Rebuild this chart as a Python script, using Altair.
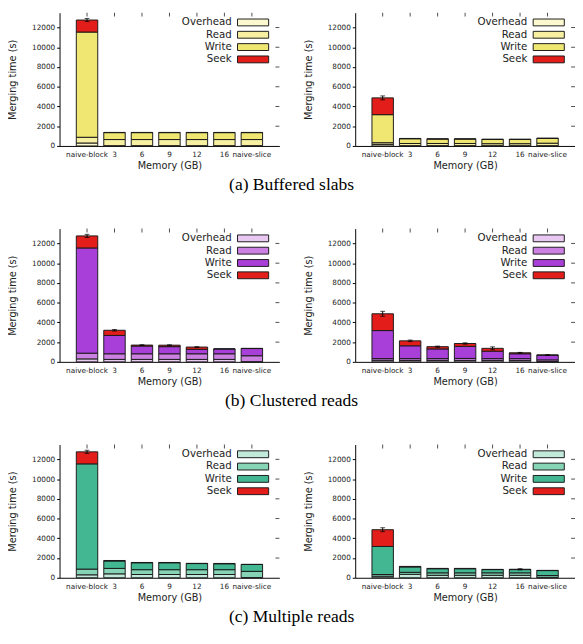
import altair as alt
import pandas as pd

mems = ["naive-block", "3", "6", "9", "12", "16", "naive-slice"]
components = ["Overhead", "Read", "Write", "Seek"]
y_ticks = [0, 2000, 4000, 6000, 8000, 10000, 12000]

captions = ["(a) Buffered slabs", "(b) Clustered reads", "(c) Multiple reads"]

yellow = ["#fcf8cf", "#f7f0a2", "#f0e772", "#e31e1a"]
purple = ["#e9c9f2", "#cb80e2", "#a93fd9", "#e31e1a"]
green = ["#c2eadb", "#86d3b5", "#42b792", "#e31e1a"]

# (a) Buffered slabs - left
a_l_overhead = [300, 30, 30, 30, 30, 30, 30]
a_l_read = [580, 620, 620, 620, 620, 620, 620]
a_l_write = [10660, 700, 700, 700, 700, 700, 700]
a_l_seek = [1220, 20, 20, 20, 20, 20, 20]
a_l_err = [160, 0, 0, 0, 0, 0, 0]
# (a) Buffered slabs - right
a_r_overhead = [160, 30, 30, 30, 30, 30, 30]
a_r_read = [170, 220, 220, 220, 200, 200, 250]
a_r_write = [2840, 480, 450, 450, 430, 430, 480]
a_r_seek = [1700, 30, 20, 20, 20, 20, 30]
a_r_err = [200, 0, 0, 0, 0, 0, 0]
# (b) Clustered reads - left
b_l_overhead = [300, 250, 250, 250, 250, 250, 20]
b_l_read = [580, 570, 570, 570, 570, 570, 600]
b_l_write = [10660, 1860, 780, 720, 450, 490, 730]
b_l_seek = [1220, 520, 100, 150, 230, 0, 20]
b_l_err = [160, 80, 40, 40, 40, 0, 0]
# (b) Clustered reads - right
b_r_overhead = [160, 150, 150, 150, 150, 150, 30]
b_r_read = [170, 180, 180, 200, 180, 180, 170]
b_r_write = [2840, 1300, 980, 1220, 750, 490, 480]
b_r_seek = [1700, 500, 230, 290, 290, 100, 10]
b_r_err = [250, 80, 60, 70, 150, 40, 30]
# (c) Multiple reads - left
c_l_overhead = [300, 400, 330, 330, 330, 330, 20]
c_l_read = [580, 550, 490, 490, 490, 490, 630]
c_l_write = [10660, 750, 700, 700, 620, 600, 700]
c_l_seek = [1220, 50, 30, 30, 20, 30, 0]
c_l_err = [160, 0, 0, 0, 0, 0, 0]
# (c) Multiple reads - right
c_r_overhead = [160, 350, 250, 250, 250, 250, 50]
c_r_read = [170, 200, 250, 250, 250, 250, 180]
c_r_write = [2840, 550, 420, 420, 330, 330, 500]
c_r_seek = [1700, 50, 30, 30, 20, 30, 20]
c_r_err = [200, 0, 0, 0, 0, 60, 0]

W, H = 226, 137
FONT = "DejaVu Sans"


def panel(over, read, write, seek, err, colors):
    series = [over, read, write, seek]
    rows = []
    for i, m in enumerate(mems):
        for k, name in enumerate(components):
            rows.append({"mem": m, "comp": name, "k": k,
                         "value": series[k][i], "color": colors[k]})
    df = pd.DataFrame(rows)
    totals = [over[i] + read[i] + write[i] + seek[i] for i in range(len(mems))]
    edf = pd.DataFrame({"mem": mems,
                        "lo": [t - e for t, e in zip(totals, err)],
                        "hi": [t + e for t, e in zip(totals, err)],
                        "err": err})
    edf = edf[edf["err"] > 0]

    xsc = alt.Scale(domain=mems, paddingInner=0.22, paddingOuter=0.61)
    ysc = alt.Scale(domain=[0, 13500], nice=False, zero=True)

    bars = alt.Chart(df).mark_bar(stroke="#1a1a1a", strokeWidth=1).encode(
        x=alt.X("mem:N", scale=xsc, sort=mems,
                axis=alt.Axis(title="Memory (GB)", labelAngle=0, ticks=False,
                              labelPadding=5, titlePadding=3, labelFontSize=7.5,
                              domainColor="black", labelColor="#222")),
        y=alt.Y("value:Q", stack="zero", scale=ysc,
                axis=alt.Axis(title="Merging time (s)", values=y_ticks, tickSize=3,
                              format="d", labelPadding=2, titlePadding=14,
                              labelFontSize=7.5, domainColor="black",
                              labelColor="#222", grid=False)),
        color=alt.Color("color:N", scale=None),
        detail="comp:N",
        order=alt.Order("k:Q", sort="ascending"),
    )

    rule = alt.Chart(edf).mark_rule(color="black", strokeWidth=1).encode(
        x=alt.X("mem:N", scale=xsc, sort=mems, axis=None),
        y=alt.Y("lo:Q", scale=ysc, axis=None),
        y2="hi:Q",
    )

    caps = alt.Chart(edf).transform_fold(["lo", "hi"], as_=["end", "v"]).mark_tick(
        color="black", size=5, thickness=1).encode(
        x=alt.X("mem:N", scale=xsc, sort=mems, axis=None),
        y=alt.Y("v:Q", scale=ysc, axis=None),
    )

    # mirrored inward ticks (top and right), gnuplot style
    top_ticks = alt.Chart(pd.DataFrame({"mem": mems})).mark_tick(
        orient="vertical", size=4, thickness=1, color="black").encode(
        x=alt.X("mem:N", scale=xsc, sort=mems, axis=None),
        y=alt.value(2),
    )
    right_ticks = alt.Chart(pd.DataFrame({"t": y_ticks[1:]})).mark_tick(
        orient="horizontal", size=4, thickness=1, color="black").encode(
        x=alt.value(W - 2),
        y=alt.Y("t:Q", scale=ysc, axis=None),
    )

    ldf = pd.DataFrame({"comp": components, "color": colors})
    ly = alt.Y("comp:N", sort=components,
               scale=alt.Scale(type="point", range=[10, 48], padding=0), axis=None)
    sym = alt.Chart(ldf).mark_point(shape="M-1,-0.22H1V0.22H-1Z", size=1024,
                                    filled=True, opacity=1, stroke="#1a1a1a",
                                    strokeWidth=1).encode(
        x=alt.value(199), y=ly, fill=alt.Fill("color:N", scale=None))
    txt = alt.Chart(ldf).mark_text(align="right", baseline="middle", fontSize=10.5,
                                   font=FONT, color="#222").encode(
        x=alt.value(177), y=ly, text="comp:N")
    legend = alt.layer(sym, txt)

    return alt.layer(bars, rule, caps, top_ticks, right_ticks, legend).resolve_scale(
        y="independent").resolve_axis(x="independent").properties(width=W, height=H)


data = [
    (a_l_overhead, a_l_read, a_l_write, a_l_seek, a_l_err,
     a_r_overhead, a_r_read, a_r_write, a_r_seek, a_r_err, yellow),
    (b_l_overhead, b_l_read, b_l_write, b_l_seek, b_l_err,
     b_r_overhead, b_r_read, b_r_write, b_r_seek, b_r_err, purple),
    (c_l_overhead, c_l_read, c_l_write, c_l_seek, c_l_err,
     c_r_overhead, c_r_read, c_r_write, c_r_seek, c_r_err, green),
]

rows = []
for cap, d in zip(captions, data):
    left = panel(d[0], d[1], d[2], d[3], d[4], d[10])
    right = panel(d[5], d[6], d[7], d[8], d[9], d[10])
    row = alt.hconcat(left, right, spacing=25).properties(
        title=alt.TitleParams(text=cap, orient="bottom", anchor="middle",
                              font="Liberation Serif", fontSize=18,
                              fontWeight="normal", offset=6, color="black"))
    rows.append(row)

chart = alt.vconcat(*rows, spacing=35).properties(
    padding={"left": 0, "right": 0, "top": -4, "bottom": 0}
).configure_axis(
    labelFont=FONT, titleFont=FONT, titleFontSize=10, titleFontWeight="normal",
    titleColor="#222", tickColor="black", minExtent=0, grid=False
).configure_view(stroke=None)

chart.save("out.html", embed_options={"renderer": "svg", "actions": False})
